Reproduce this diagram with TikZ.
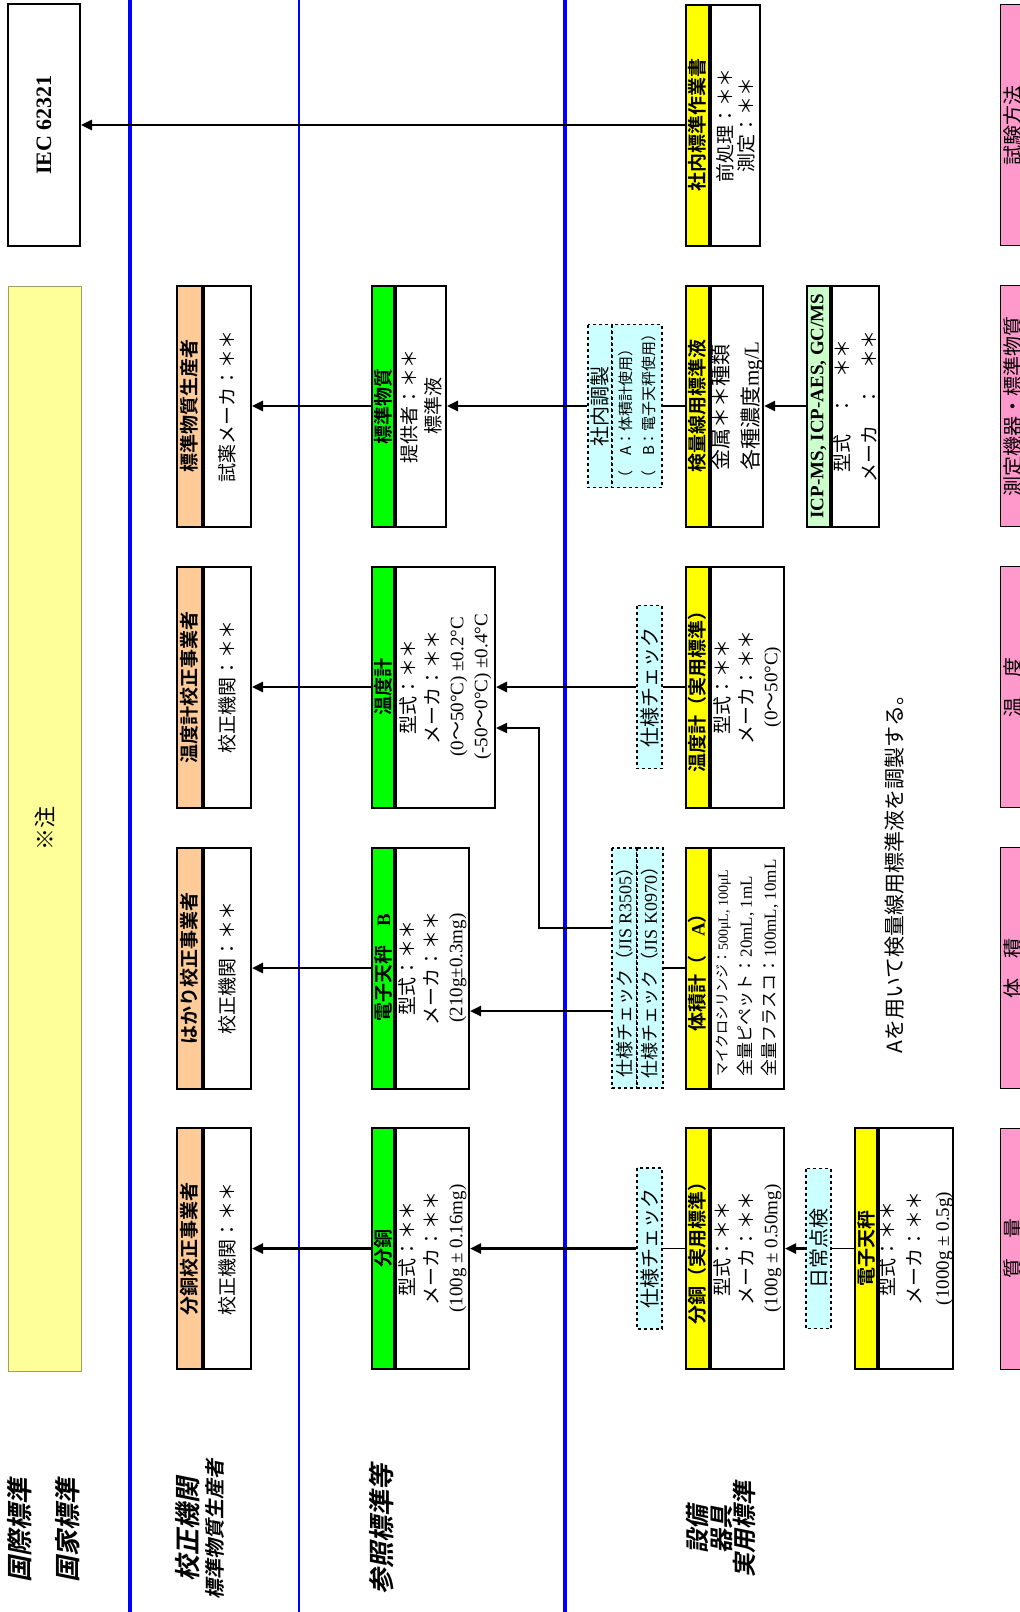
\documentclass[tikz,border=0pt]{standalone}
\usepackage{fontspec}
\setmainfont{Noto Sans CJK JP}[BoldFont={Noto Sans CJK JP Bold}]
\newfontfamily\tm{Liberation Serif}
\newfontfamily\lbl{Noto Sans CJK JP Bold}[FakeSlant=0.2]
\usetikzlibrary{arrows.meta, calc}

\definecolor{calorange}{HTML}{FFCC99}
\definecolor{refgreen}{HTML}{00FF00}
\definecolor{eqyellow}{HTML}{FFFF00}
\definecolor{icpgreen}{HTML}{CCFFCC}
\definecolor{chkcyan}{HTML}{CCFFFF}
\definecolor{notefill}{HTML}{FFFF99}
\definecolor{notedraw}{HTML}{A0A060}
\definecolor{colpink}{HTML}{FF99CC}
\definecolor{laneblue}{HTML}{0000FF}

\begin{document}
\begin{tikzpicture}[
    x=1pt, y=1pt,
    band/.style={draw, line width=2pt, fill=#1, rotate=90,
        minimum width=241pt, minimum height=23pt, inner sep=0pt,
        font=\fontsize{19}{22}\selectfont\bfseries},
    body/.style={draw, line width=2pt, fill=white, rotate=90,
        minimum width=241pt, inner sep=0pt, anchor=north, align=center,
        font=\fontsize{19}{24}\selectfont},
    check/.style={draw, dashed, line width=1.5pt, fill=chkcyan, rotate=90,
        minimum height=25pt, inner sep=0pt, font=\fontsize{20}{22}\selectfont},
    rowlabel/.style={rotate=90, align=center, font=\lbl\fontsize{26}{26}\selectfont},
    tab/.style={draw, line width=1pt, fill=colpink, rotate=90,
        minimum width=241pt, minimum height=26pt, inner sep=0pt,
        font=\fontsize{20}{22}\selectfont},
    lane/.style={laneblue, line width=#1},
    arr/.style={line width=2.5pt, -{Triangle[length=11pt, width=10pt]}},
    link/.style={line width=1.5pt}
]
\useasboundingbox (0,0) rectangle (1020,-1612);
\clip (0,0) rectangle (1020,-1612);

% ------------------------
% Lanes
% ------------------------
\draw[lane=3.5pt] (130,0) -- (130,-1612);
\draw[lane=2pt] (299,0) -- (299,-1612);
\draw[lane=3.5pt] (565,0) -- (565,-1612);

% ------------------------
% Row labels
% ------------------------
\node[rowlabel] (intl) at (20,-1530) {国際標準};
\node[rowlabel] (natl) at (68,-1530) {国家標準};
\node[rowlabel] (calib) at (188,-1529) {校正機関};
\node[rowlabel, font=\lbl\fontsize{20}{20}\selectfont] (rmprod) at (214.5,-1529) {標準物質生産者};
\node[rowlabel] (refstd) at (382,-1529) {参照標準等};
\node[rowlabel, font=\lbl\fontsize{24}{23.5}\selectfont] (equip) at (721,-1529) {設備\\器具\\実用標準};

% ------------------------
% International / national
% ------------------------
\node[draw, line width=2pt, rotate=90, minimum width=242pt, minimum height=72pt,
    font=\tm\bfseries\fontsize{22}{22}\selectfont] (iec) at (44,-125) {IEC 62321};
\node[draw=notedraw, line width=1pt, fill=notefill, rotate=90, minimum width=1085pt,
    minimum height=73pt, font=\fontsize{22}{22}\selectfont] (note) at (44.5,-828.5) {※注};

% ------------------------
% Calibration bodies
% ------------------------
\node[band=calorange, minimum height=25pt] (calW) at (189.5,-1248.5) {分銅校正事業者};
\node[body, minimum height=47pt] (calWb) at (calW.south) {校正機関：＊＊};
\node[band=calorange, minimum height=25pt] (calB) at (189.5,-968) {はかり校正事業者};
\node[body, minimum height=47pt] (calBb) at (calB.south) {校正機関：＊＊};
\node[band=calorange, minimum height=25pt] (calT) at (189.5,-687) {温度計校正事業者};
\node[body, minimum height=47pt] (calTb) at (calT.south) {校正機関：＊＊};
\node[band=calorange, minimum height=25pt] (rmP) at (189.5,-406) {標準物質生産者};
\node[body, minimum height=47pt] (rmPb) at (rmP.south) {試薬メーカ：＊＊};

% ------------------------
% Reference standards
% ------------------------
\node[band=refgreen, minimum height=22pt] (refW) at (383,-1248.5) {分銅};
\node[body, minimum height=73pt] (refWb) at (refW.south)
    {型式：＊＊\\メーカ：＊＊\\{\tm (100g ± 0.16mg)}};
\node[band=refgreen, minimum height=22pt] (refB) at (383,-968) {電子天秤　{\tm B}};
\node[body, minimum height=73pt] (refBb) at (refB.south)
    {型式：＊＊\\メーカ：＊＊\\{\tm (210g±0.3mg)}};
\node[band=refgreen, minimum height=22pt] (refT) at (383,-687) {温度計};
\node[body, minimum height=99pt] (refTb) at (refT.south)
    {型式：＊＊\\メーカ：＊＊\\{\tm (0}～{\tm 50°C) ±0.2°C}\\{\tm (-50}～{\tm 0°C) ±0.4°C}};
\node[band=refgreen, minimum height=22pt] (refM) at (383,-406) {標準物質};
\node[body, minimum height=50pt] (refMb) at (refM.south) {提供者：＊＊\\標準液};

% ------------------------
% Equipment / working standards
% ------------------------
\node[band=eqyellow] (eqW) at (697.5,-1248.5) {分銅（実用標準）};
\node[body, minimum height=73pt] (eqWb) at (eqW.south)
    {型式：＊＊\\メーカ：＊＊\\{\tm (100g ± 0.50mg)}};
\node[band=eqyellow] (eqV) at (697.5,-968) {体積計（　{\tm A}）};
\node[body, minimum height=73pt, align=left, font=\fontsize{17}{24}\selectfont] (eqVb) at (eqV.south)
    {{\fontsize{14}{24}\selectfont マイクロシリンジ：{\tm 500μL, 100μL}}\\
     全量ピペット：{\tm 20mL, 1mL}\\全量フラスコ：{\tm 100mL, 10mL}};
\node[band=eqyellow] (eqT) at (697.5,-687) {温度計（実用標準）};
\node[body, minimum height=73pt] (eqTb) at (eqT.south)
    {型式：＊＊\\メーカ：＊＊\\{\tm (0}～{\tm 50°C)}};
\node[band=eqyellow] (eqS) at (697.5,-406) {検量線用標準液};
\node[body, minimum height=49pt, align=left, font=\fontsize{21}{30}\selectfont] (eqSb) at (eqS.south)
    {金属＊＊種類\\各種濃度{\tm mg/L}};
\node[band=eqyellow] (sop) at (697.5,-125) {社内標準作業書};
\node[body, minimum height=49pt, font=\fontsize{19}{21}\selectfont] (sopb) at (sop.south)
    {前処理：＊＊\\測定：＊＊};

\node[band=icpgreen, font=\tm\bfseries\fontsize{19}{22}\selectfont] (icp) at (818.5,-406) {ICP-MS, ICP-AES, GC/MS};
\node[body, minimum height=47pt, font=\fontsize{19}{27}\selectfont] (icpb) at (icp.south)
    {型式　：　＊＊\\メーカ　：　＊＊};
\node[band=eqyellow, minimum height=22pt] (bal) at (866,-1248.5) {電子天秤};
\node[body, minimum height=74pt, font=\fontsize{19}{27}\selectfont] (balb) at (bal.south)
    {型式：＊＊\\メーカ：＊＊\\{\tm (1000g ± 0.5g)}};

% ------------------------
% Checks
% ------------------------
\node[check, minimum width=161pt] (chkW) at (649.5,-1248.5) {仕様チェック};
\node[check, minimum width=160pt] (daily) at (818.5,-1248.5) {日常点検};
\node[check, minimum width=163pt] (chkT) at (649.5,-687) {仕様チェック};
\node[check, minimum width=240pt, font=\fontsize{18}{20}\selectfont] (jisR) at (624.5,-968) {仕様チェック（{\tm JIS R3505}）};
\node[check, minimum width=240pt, minimum height=26pt, font=\fontsize{18}{20}\selectfont] (jisK) at (650,-968) {仕様チェック（{\tm JIS K0970}）};
\node[check, minimum width=163pt, minimum height=24pt] (inhouse) at (600,-406) {社内調製};
\node[check, minimum width=163pt, minimum height=50pt, align=left, font=\fontsize{15}{23}\selectfont] (prep) at (637,-406)
    {（　A：体積計使用）\\（　B：電子天秤使用）};

\node[rotate=90, font=\fontsize{21}{21}\selectfont] (memo) at (895,-869) {Aを用いて検量線用標準液を調製する。};

% ------------------------
% Column tabs
% ------------------------
\node[tab] (tabM) at (1013,-1248.5) {質　量};
\node[tab] (tabV) at (1013,-968) {体　積};
\node[tab] (tabT) at (1013,-687) {温　度};
\node[tab] (tabR) at (1013,-406) {測定機器・標準物質};
\node[tab] (tabS) at (1013,-125) {試験方法};

% ------------------------
% Arrows
% ------------------------
\draw[link] (bal.north) -- (daily.south);
\draw[arr] (daily.north) -- (eqWb.south);
\draw[link] (eqW.north) -- (chkW.south);
\draw[arr] (chkW.north) -- (refWb.south);
\draw[arr] (refW.north) -- (calWb.south);

\draw[link] (eqV.north) -- (jisK.south);
\draw[arr] ($(jisR.north)+(0,-43)$) -- ($(refBb.south)+(0,-43)$);
\coordinate (bend) at (539,-728);
\draw[arr, line width=2pt] ($(jisR.north)+(0,40)$) -| (bend) -- (refTb.south |- bend);
\draw[arr] (refB.north) -- (calBb.south);

\draw[link] (eqT.north) -- (chkT.south);
\draw[arr] (chkT.north) -- (refTb.south);
\draw[arr] (refT.north) -- (calTb.south);

\draw[arr] (icp.north) -- (eqSb.south);
\draw[link] (eqS.north) -- (prep.south);
\draw[arr] (inhouse.north) -- (refMb.south);
\draw[arr] (refM.north) -- (rmPb.south);

\draw[arr] (sop.north) -- (iec.south);

\end{tikzpicture}
\end{document}
